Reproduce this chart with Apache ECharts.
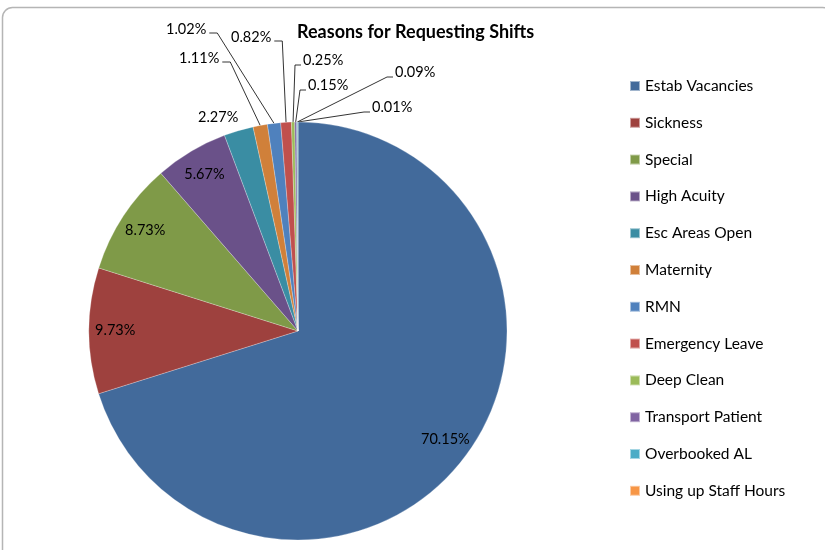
<!DOCTYPE html>
<html>
<head>
<meta charset="utf-8">
<script src="https://cdn.jsdelivr.net/npm/echarts@6/dist/echarts.min.js"></script>
<style>
  html, body { margin: 0; padding: 0; background: #fff; }
  #chart { width: 825px; height: 550px; }
</style>
</head>
<body>
<div id="chart"></div>
<script>
// Reasons for requesting shifts, share of all requests (%)
const categories = [
  'Estab Vacancies', 'Sickness', 'Special', 'High Acuity', 'Esc Areas Open',
  'Maternity', 'RMN', 'Emergency Leave', 'Deep Clean', 'Transport Patient',
  'Overbooked AL', 'Using up Staff Hours'
];
const shares = [70.15, 9.73, 8.73, 5.67, 2.27, 1.11, 1.02, 0.82, 0.25, 0.15, 0.09, 0.01];
const titleText = 'Reasons for Requesting Shifts';

const sliceColors = [
  '#426A9B', '#9E413E', '#7F9A48', '#6A5189', '#3A8DA3', '#D0803A',
  '#4F81BD', '#C0504D', '#9BBB59', '#8064A2', '#4BACC6', '#F79646'
];

const FONT = 'Lato, "Open Sans", sans-serif';
const PIE_CENTER = [298, 331];
const PIE_RADIUS = 209;
const INSIDE_RATIO = 0.85;   // inside labels sit close to the rim

// Callouts for the thin slices: left edge and middle of the text,
// and the side of the text the leader line joins (null = no leader)
const callouts = {
  'Esc Areas Open':       { x: 198, y: 117, side: null },
  'Maternity':            { x: 179, y: 58,  side: 'right' },
  'RMN':                  { x: 166, y: 29,  side: 'right' },
  'Emergency Leave':      { x: 231, y: 37,  side: 'right' },
  'Deep Clean':           { x: 303, y: 60,  side: 'left' },
  'Transport Patient':    { x: 308, y: 85,  side: 'left' },
  'Overbooked AL':        { x: 395, y: 72,  side: 'left' },
  'Using up Staff Hours': { x: 372, y: 107, side: 'left' }
};

const pieData = categories.map((name, i) => {
  const c = callouts[name];
  return {
    name: name,
    value: shares[i],
    label: { position: c ? 'outside' : 'inside' },
    labelLine: { show: !!(c && c.side) }
  };
});

function placeLabel(p) {
  const name = categories[p.dataIndex];
  const spot = callouts[name];
  const r = p.labelRect;
  if (!spot) {
    // push the library's mid-radius label out along its own angle
    const lx = r.x + r.width / 2, ly = r.y + r.height / 2;
    const k = INSIDE_RATIO / 0.5;
    return {
      x: PIE_CENTER[0] + (lx - PIE_CENTER[0]) * k,
      y: PIE_CENTER[1] + (ly - PIE_CENTER[1]) * k,
      align: 'center', verticalAlign: 'middle'
    };
  }
  const out = { x: spot.x, y: spot.y, align: 'left', verticalAlign: 'middle' };
  if (spot.side && p.labelLinePoints) {
    const edge = p.labelLinePoints[0];
    if (spot.side === 'right') {
      const right = spot.x + r.width;
      const ly = spot.y + 4;
      out.labelLinePoints = [[edge[0], edge[1]], [right + 11, ly], [right + 3, ly]];
    } else {
      const ly = spot.y + 5;
      out.labelLinePoints = [[edge[0], edge[1]], [spot.x - 8, ly], [spot.x - 2, ly]];
    }
  }
  return out;
}

const chart = echarts.init(document.getElementById('chart'), null, { renderer: 'canvas' });
chart.setOption({
  animation: false,
  backgroundColor: '#fff',
  color: sliceColors,
  graphic: [{
    type: 'rect',
    z: -10,
    shape: { x: 2.5, y: 7.5, width: 830, height: 570, r: 10 },
    style: { fill: 'none', stroke: '#b5b5b5', lineWidth: 1.5 }
  }],
  title: {
    text: titleText,
    left: 297,
    top: 21,
    padding: 0,
    textStyle: { fontFamily: FONT, fontSize: 18, fontWeight: 'bold', color: '#000', lineHeight: 22 }
  },
  legend: {
    orient: 'vertical',
    left: 629,
    top: 78,
    padding: 0,
    icon: 'rect',
    itemWidth: 10,
    itemHeight: 10,
    itemGap: 20.8,
    data: categories,
    selectedMode: false,
    textStyle: { fontFamily: FONT, fontSize: 15.5, color: '#000', lineHeight: 16 }
  },
  series: [{
    type: 'pie',
    center: PIE_CENTER,
    radius: PIE_RADIUS,
    startAngle: 90,
    clockwise: true,
    avoidLabelOverlap: false,
    emphasis: { disabled: true },
    itemStyle: { borderColor: 'rgba(255,255,255,0.5)', borderWidth: 0.5 },
    label: {
      show: true,
      fontFamily: FONT,
      fontSize: 14.5,
      color: '#000',
      formatter: (p) => p.value.toFixed(2) + '%'
    },
    labelLine: { lineStyle: { color: '#000', width: 0.8 } },
    labelLayout: placeLabel,
    data: pieData
  }]
});
</script>
</body>
</html>
